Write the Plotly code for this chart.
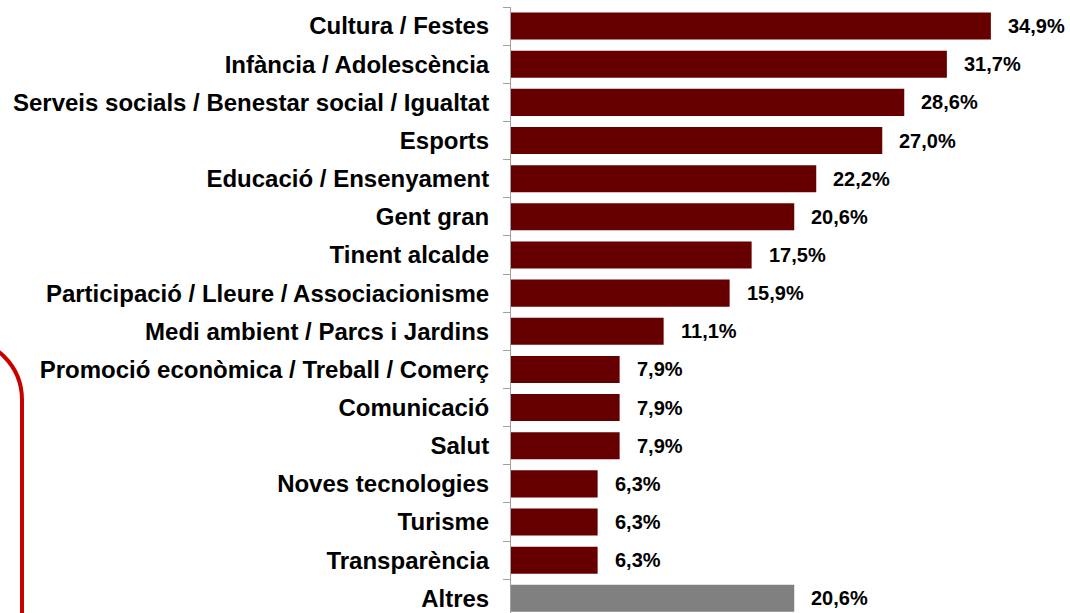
import plotly.graph_objects as go

categories = [
    "Cultura / Festes",
    "Infància / Adolescència",
    "Serveis socials / Benestar social / Igualtat",
    "Esports",
    "Educació / Ensenyament",
    "Gent gran",
    "Tinent alcalde",
    "Participació / Lleure / Associacionisme",
    "Medi ambient / Parcs i Jardins",
    "Promoció econòmica / Treball / Comerç",
    "Comunicació",
    "Salut",
    "Noves tecnologies",
    "Turisme",
    "Transparència",
    "Altres",
]
values = [34.9, 31.7, 28.6, 27.0, 22.2, 20.6, 17.5, 15.9, 11.1, 7.9, 7.9, 7.9, 6.3, 6.3, 6.3, 20.6]

W, H = 1070, 613
L, R, T, B = 511, 10, 7, 0
PW, PH = W - L - R, H - T - B
XMAX = PW / 13.75
BAND = 38.15

bar_colors = ["#660000"] * (len(categories) - 1) + ["#808080"]
FONT = "Liberation Sans, Arial"

fig = go.Figure(go.Bar(
    x=values, y=categories, orientation="h",
    marker=dict(color=bar_colors, line=dict(width=0)),
    width=0.71, hoverinfo="skip",
))

for c, v in zip(categories, values):
    fig.add_annotation(x=v, y=c, text=f"{v:.1f}%".replace(".", ","),
                       xanchor="left", xshift=15, showarrow=False,
                       font=dict(family=FONT, size=20, color="#000000",
                                 weight="bold"))


def px2paper(sx, sy):
    return (sx - L) / PW, (H - sy - B) / PH


# red rounded frame peeking in on the left
pts = [(-39, 339), (-5, 339), (22, 366), (22, 400), (22, 680)]
p = [px2paper(*q) for q in pts]
path = (f"M {p[0][0]},{p[0][1]} C {p[1][0]},{p[1][1]} {p[2][0]},{p[2][1]} "
        f"{p[3][0]},{p[3][1]} L {p[4][0]},{p[4][1]}")
fig.add_shape(type="path", path=path, xref="paper", yref="paper",
              line=dict(color="#c80000", width=4))

fig.update_layout(
    width=W, height=H,
    margin=dict(l=L, r=R, t=T, b=B, autoexpand=False),
    paper_bgcolor="white", plot_bgcolor="white",
    showlegend=False,
    font=dict(family=FONT, size=24, color="#000000"),
    xaxis=dict(range=[0, XMAX], visible=False, fixedrange=True),
    yaxis=dict(
        categoryorder="array", categoryarray=categories,
        range=[-0.5 + PH / BAND, -0.5],
        showline=True, linecolor="#a0a0a0", linewidth=1,
        ticks="outside", ticklen=7, tickcolor="#a0a0a0",
        tickson="boundaries", ticklabelstandoff=16,
        tickfont=dict(family=FONT, size=24, color="#000000", weight="bold"),
        showgrid=False, zeroline=False, fixedrange=True,
    ),
)

# figure fills the window exactly: drop the default body margin
fig.write_html(
    "out.html",
    config={"displayModeBar": False},
    post_script="document.body.style.margin='0';"
                "document.body.style.overflow='hidden';",
)
